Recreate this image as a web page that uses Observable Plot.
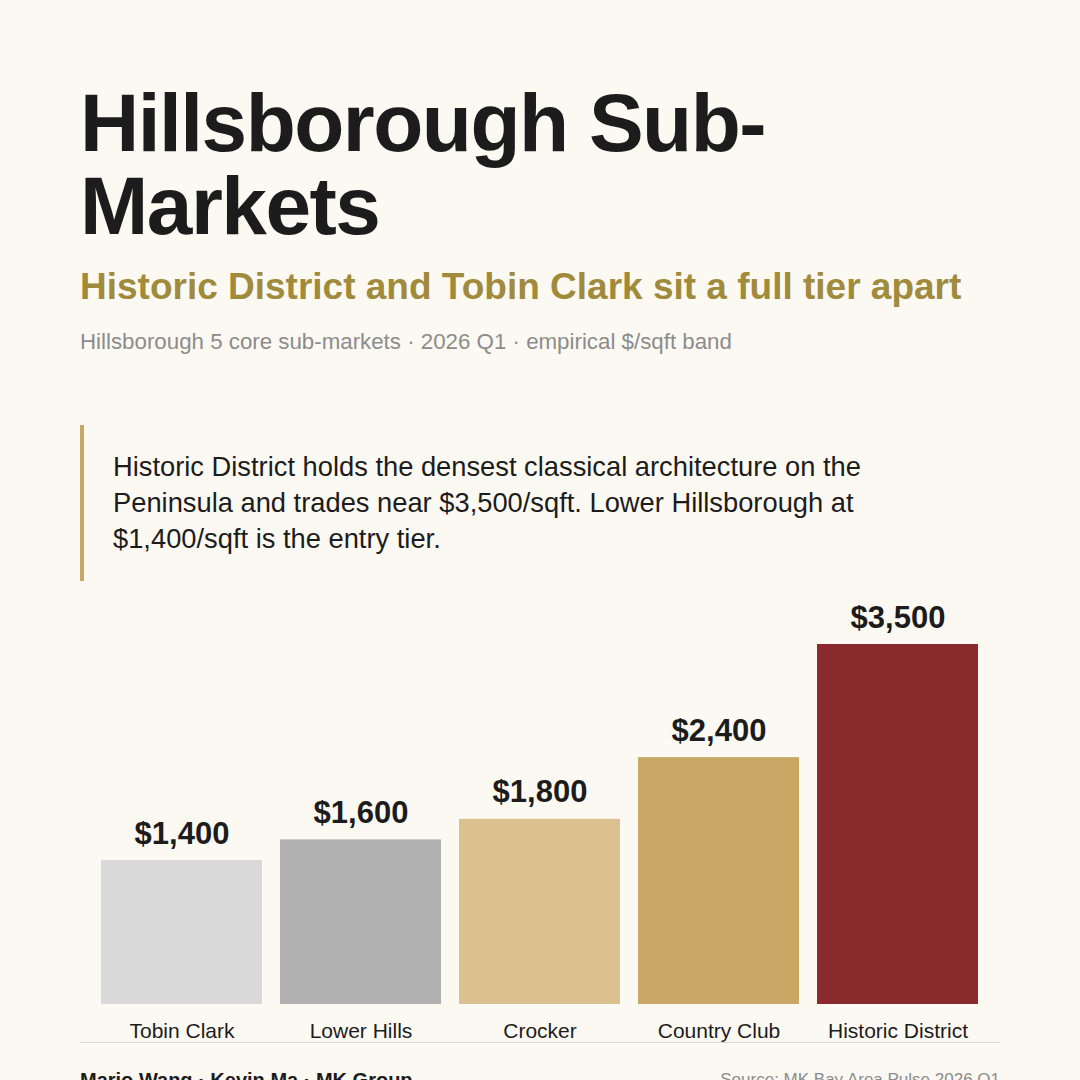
<!DOCTYPE html>
<html>
<head>
<meta charset="utf-8">
<script src="https://cdn.jsdelivr.net/npm/d3@7"></script>
<script src="https://cdn.jsdelivr.net/npm/@observablehq/plot@0.6"></script>
<style>
  html, body { margin: 0; padding: 0; background: #fcf9f2; }
  body { width: 1080px; height: 1080px; overflow: hidden; position: relative; font-family: "Liberation Sans", Arial, Helvetica, sans-serif; color: #1c1c1c; }
  .title { position: absolute; left: 80px; top: 81px; width: 920px; font-size: 82px; font-weight: 700; line-height: 83px; letter-spacing: -1.5px; color: #1c1c1c; margin: 0; }
  .sub { position: absolute; left: 80px; top: 266px; font-size: 37px; font-weight: 700; color: #a08a3c; white-space: nowrap; }
  .meta { position: absolute; left: 80px; top: 329px; font-size: 22.3px; color: #8c8c8c; white-space: nowrap; }
  .callout { position: absolute; left: 80px; top: 425px; height: 156px; width: 840px; border-left: 4px solid #c9a865; box-sizing: border-box; padding-left: 29px; padding-top: 24px; font-size: 27.3px; line-height: 36px; color: #1c1c1c; }
  #chart { position: absolute; left: 80px; top: 590px; width: 920px; border-bottom: 1px solid #d8d8d8; }
  #chart svg { display: block; }
  .foot-l { position: absolute; left: 80px; top: 1069px; font-size: 20px; font-weight: 700; color: #1c1c1c; white-space: nowrap; }
  .foot-r { position: absolute; right: 80px; top: 1070px; font-size: 17px; color: #8c8c8c; white-space: nowrap; }
</style>
</head>
<body>
<h1 class="title">Hillsborough Sub-Markets</h1>
<div class="sub">Historic District and Tobin Clark sit a full tier apart</div>
<div class="meta">Hillsborough 5 core sub-markets · 2026 Q1 · empirical $/sqft band</div>
<div class="callout">Historic District holds the densest classical architecture on the Peninsula and trades near $3,500/sqft. Lower Hillsborough at $1,400/sqft is the entry tier.</div>
<div id="chart"></div>
<div class="foot-l">Mario Wang · Kevin Ma · MK Group</div>
<div class="foot-r">Source: MK Bay Area Pulse 2026 Q1</div>
<script>
const markets = ["Tobin Clark", "Lower Hills", "Crocker", "Country Club", "Historic District"];
const pricePerSqft = [1400, 1600, 1800, 2400, 3500];
const barColors = ["#d9d9d9", "#b0b0b0", "#dbc18f", "#c9a865", "#8b2a2d"];

const data = markets.map((m, i) => ({ market: m, value: pricePerSqft[i], color: barColors[i] }));
const fmt = d3.format("$,");

const chart = Plot.plot({
  width: 920,
  height: 452,
  marginTop: 54,
  marginBottom: 38,
  marginLeft: 20,
  marginRight: 20,
  style: { background: "transparent", fontFamily: "'Liberation Sans', Arial, Helvetica, sans-serif" },
  x: { domain: markets, paddingInner: 0.1, paddingOuter: 0, label: null },
  y: { domain: [0, 3500], axis: null },
  marks: [
    Plot.barY(data, { x: "market", y: "value", fill: "color" }),
    Plot.text(data, { x: "market", y: "value", text: d => fmt(d.value), lineAnchor: "bottom", dy: -17, fontSize: 31, fontWeight: 700, fill: "#1c1c1c" }),
    Plot.axisX({ tickSize: 0, tickPadding: 19, fontSize: 21, color: "#1c1c1c", label: null })
  ]
});
document.getElementById("chart").append(chart);
</script>
</body>
</html>
